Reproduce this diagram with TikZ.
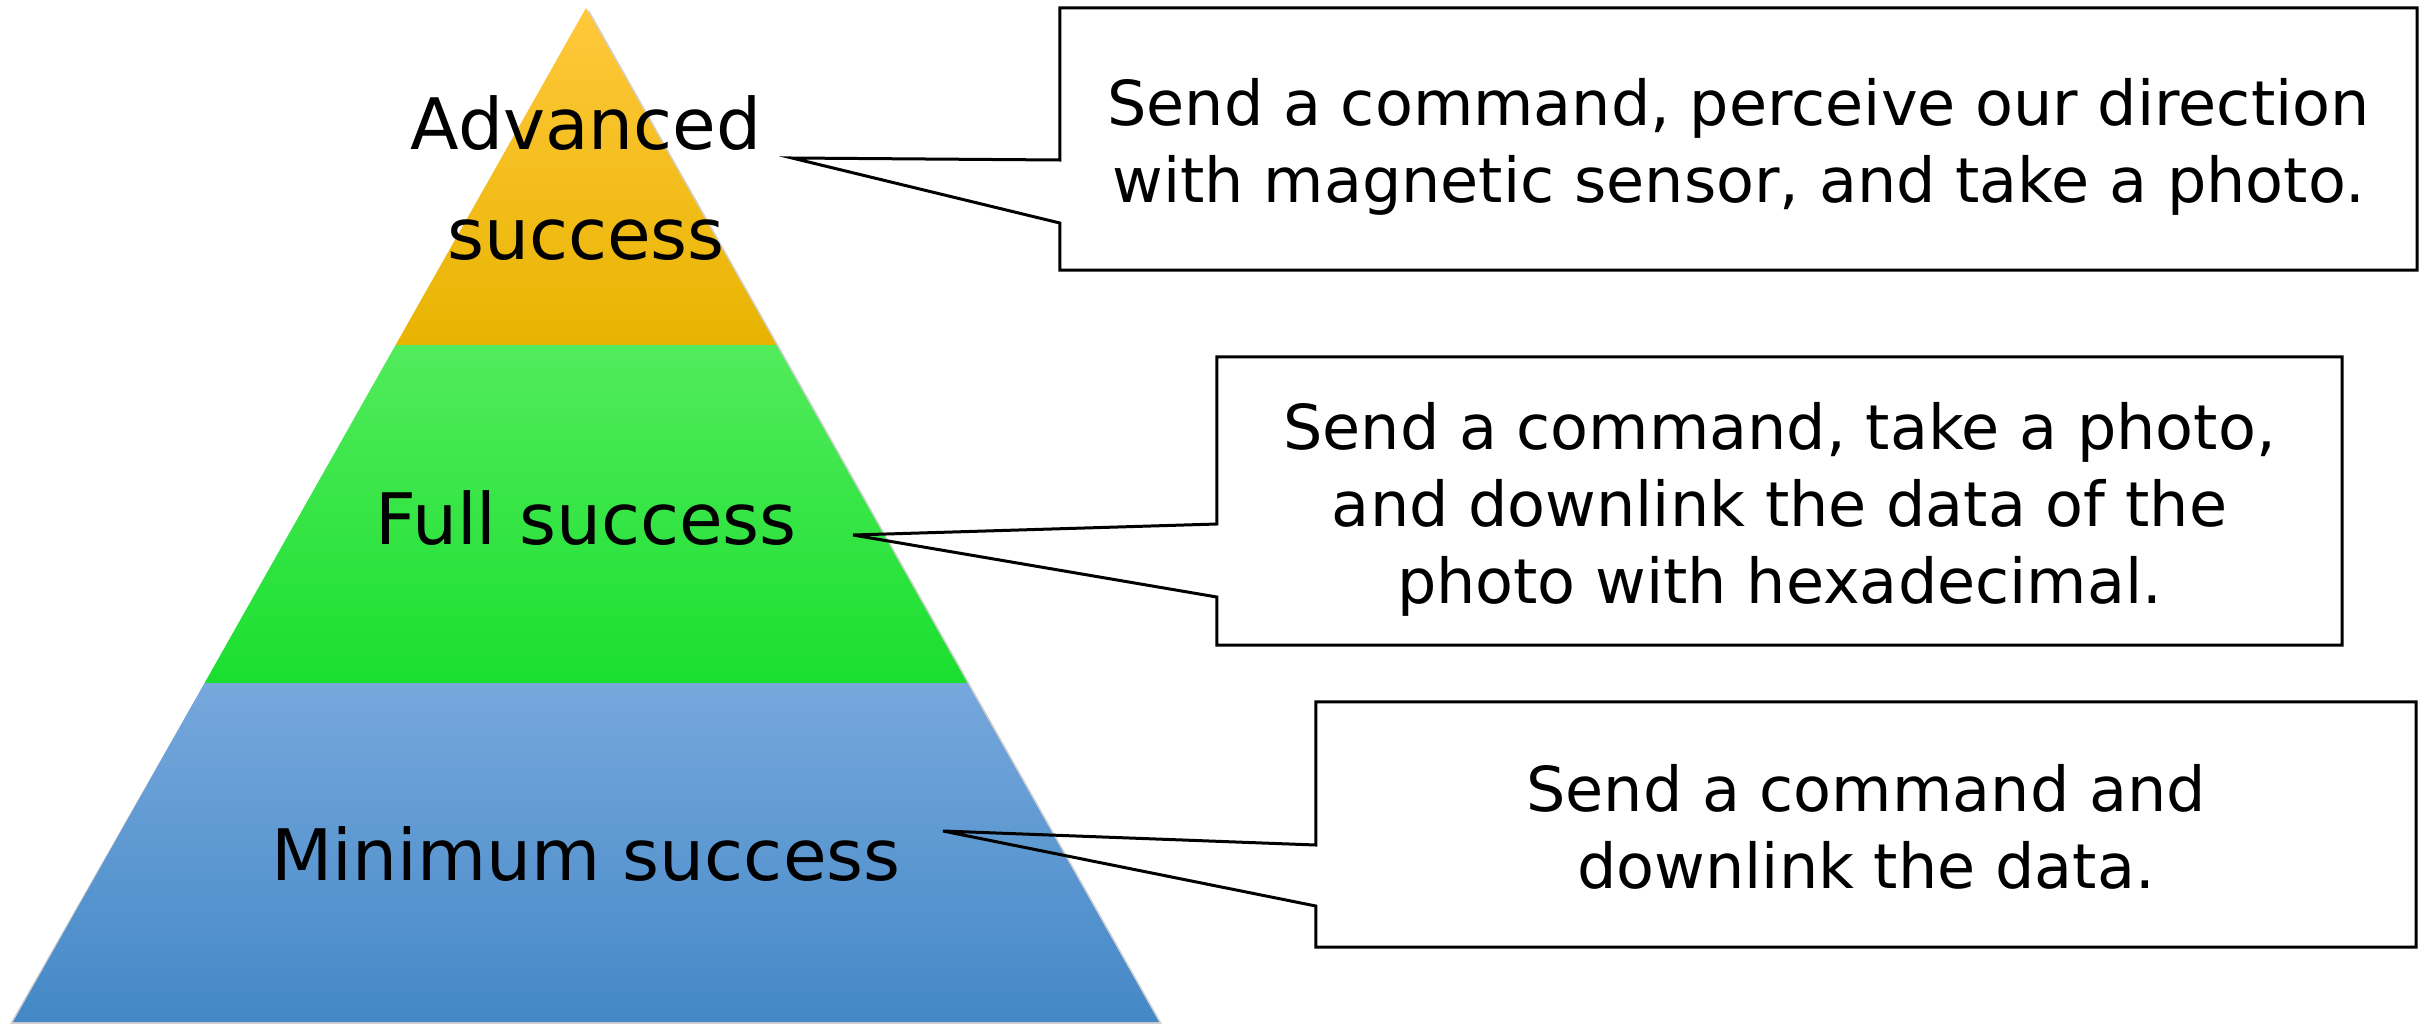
\documentclass[tikz,border=0pt]{standalone}
\usepackage{fontspec}
\setmainfont{DejaVu Sans}
\definecolor{orT}{HTML}{FFC83C}
\definecolor{orM}{HTML}{FFC300}
\definecolor{orB}{HTML}{E8B400}
\definecolor{grT}{HTML}{52EB5C}
\definecolor{grM}{HTML}{2BE63A}
\definecolor{grB}{HTML}{1ADF2F}
\definecolor{blT}{HTML}{76A8DC}
\definecolor{blM}{HTML}{5C9CD8}
\definecolor{blB}{HTML}{4488C7}
\begin{document}
\begin{tikzpicture}[x=1pt,y=-1pt,
  boxframe/.style={draw=none, rectangle, inner sep=0pt},
  callout/.style={draw=black, line width=3pt, line join=miter},
  boxtext/.style={align=center, inner sep=0pt, font=\fontsize{62}{77}\selectfont},
  lvltext/.style={align=center, inner sep=0pt, font=\fontsize{71}{110}\selectfont},
  pshadow/.style={fill=black, opacity=0.18}]
\useasboundingbox (0,0) rectangle (2425,1023);
% pyramid corners
\coordinate (apex) at (586,8);
\coordinate (l1) at (395.6,345);
\coordinate (r1) at (776.4,345);
\coordinate (l2) at (204.6,683);
\coordinate (r2) at (967.4,683);
\coordinate (bl) at (13,1022);
\coordinate (br) at (1159,1022);
% soft shadow
\fill[pshadow] ([shift={(3,2)}]apex) -- ([shift={(3,2)}]br) -- ([shift={(-3,2)}]bl) -- cycle;
% levels
\shade[top color=orT, middle color=orM, bottom color=orB] (apex) -- (r1) -- (l1) -- cycle;
\shade[top color=grT, middle color=grM, bottom color=grB] (l1) -- (r1) -- (r2) -- (l2) -- cycle;
\shade[top color=blT, middle color=blM, bottom color=blB] (l2) -- (r2) -- (br) -- (bl) -- cycle;
% level labels
\node[lvltext] (adv) at (586,178) {Advanced\\success};
\node[lvltext, anchor=base] (full) at (586,544) {Full success};
\node[lvltext, anchor=base] (mini) at (586,880) {Minimum success};
% boxes
\node[boxframe, minimum width=1357pt, minimum height=262pt] (b1) at (1738.5,139) {};
\node[boxframe, minimum width=1125pt, minimum height=288pt] (b2) at (1779.5,501) {};
\node[boxframe, minimum width=1100pt, minimum height=245pt] (b3) at (1866,824.5) {};
\node[boxtext] (t1) at (1738.5,147) {Send a command, perceive our direction\\with magnetic sensor, and take a photo.};
\node[boxtext] (t2) at (1779.5,509.5) {Send a command, take a photo,\\and downlink the data of the\\photo with hexadecimal.};
\node[boxtext] (t3) at (1866,826.5) {Send a command and\\downlink the data.};
% callout tips and wedge attach points
\coordinate (tip1) at (792,158);
\coordinate (tip2) at (853,535);
\coordinate (tip3) at (943,831);
\coordinate (u1) at (0,160);
\coordinate (w1) at (0,223);
\coordinate (u2) at (0,524);
\coordinate (w2) at (0,597);
\coordinate (u3) at (0,845);
\coordinate (w3) at (0,906);
% callout outlines
\draw[callout] (b1.west |- u1) -- (tip1) -- (b1.west |- w1) -- (b1.south west) -- (b1.south east) -- (b1.north east) -- (b1.north west) -- cycle;
\draw[callout] (b2.west |- u2) -- (tip2) -- (b2.west |- w2) -- (b2.south west) -- (b2.south east) -- (b2.north east) -- (b2.north west) -- cycle;
\draw[callout] (b3.west |- u3) -- (tip3) -- (b3.west |- w3) -- (b3.south west) -- (b3.south east) -- (b3.north east) -- (b3.north west) -- cycle;
\end{tikzpicture}
\end{document}
